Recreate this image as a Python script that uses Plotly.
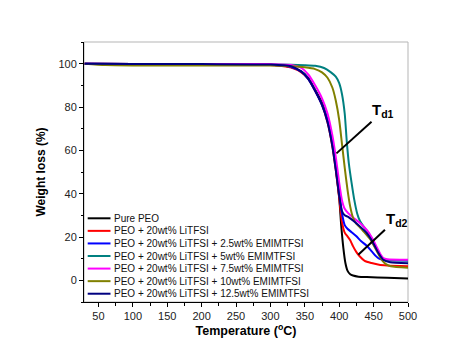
import plotly.graph_objects as go

# ---------------- data ----------------
series_names = [
    "Pure PEO",
    "PEO + 20wt% LiTFSI",
    "PEO + 20wt% LiTFSI + 2.5wt% EMIMTFSI",
    "PEO + 20wt% LiTFSI + 5wt% EMIMTFSI",
    "PEO + 20wt% LiTFSI + 7.5wt% EMIMTFSI",
    "PEO + 20wt% LiTFSI + 10wt% EMIMTFSI",
    "PEO + 20wt% LiTFSI + 12.5wt% EMIMTFSI",
]
series_colors = ["#000000", "#ff0000", "#0000ff", "#008080", "#ff00ff", "#808000", "#000080"]

pure_peo_T = [30, 100, 200, 280, 310, 330, 345, 355, 365, 375, 383, 390, 395, 400, 403, 406, 409, 412, 416, 420, 428, 440, 470, 500]
pure_peo_W = [100, 99.9, 99.8, 99.6, 99.3, 98.5, 96.5, 93.5, 88, 82, 74, 63, 52, 38, 25, 15, 8, 4.5, 2.8, 2.2, 1.7, 1.5, 1.2, 0.9]

litfsi_T = [30, 100, 200, 280, 310, 330, 345, 355, 365, 375, 383, 390, 395, 400, 404, 408, 412, 416, 420, 425, 430, 437, 447, 458, 470, 500]
litfsi_W = [100, 99.9, 99.8, 99.6, 99.2, 98.2, 96, 93, 87.5, 81, 73, 62, 51, 38, 27, 22, 20.3, 18.5, 15.8, 13, 11, 9, 8, 7.2, 6.9, 6.5]

emim25_T = [30, 100, 200, 280, 310, 330, 345, 355, 365, 375, 383, 390, 395, 400, 404, 408, 412, 418, 425, 432, 440, 447, 453, 458, 465, 480, 500]
emim25_W = [100, 99.9, 99.8, 99.6, 99.3, 98.5, 96.3, 93, 87.5, 81, 74, 64, 54, 41, 31, 25.5, 23.8, 22.2, 20.3, 18, 16, 13.5, 11.3, 10, 9.5, 9.3, 9.1]

emim5_T = [30, 100, 200, 300, 330, 350, 365, 378, 388, 395, 400, 404, 408, 411, 414, 418, 422, 426, 430, 435, 442, 449, 455, 460, 465, 470, 500]
emim5_W = [100, 99.9, 99.8, 99.7, 99.5, 99.3, 99, 98, 96, 94, 91, 86, 77, 64, 54, 45, 37, 31, 27.5, 25, 22, 18.5, 14.5, 11.5, 9.8, 9.3, 9.1]

emim75_T = [30, 100, 200, 300, 330, 345, 355, 365, 375, 383, 390, 395, 400, 404, 408, 413, 420, 428, 435, 442, 449, 455, 460, 464, 470, 500]
emim75_W = [100, 99.9, 99.8, 99.8, 99.4, 98, 95, 90, 84, 77, 67, 57, 45, 37, 33, 31, 29, 27, 25, 22.5, 18.8, 15, 12, 10.3, 9.7, 9.5]

emim10_T = [30, 60, 100, 200, 300, 330, 350, 365, 375, 383, 390, 395, 400, 404, 408, 412, 416, 420, 425, 430, 437, 445, 452, 458, 463, 468, 475, 500]
emim10_W = [100, 99.4, 99.2, 99.1, 99.1, 98.8, 98.3, 97.5, 96, 93.5, 89, 83, 74, 63, 52, 42, 34, 29, 26, 24.5, 22, 19, 15, 11.5, 9, 7.5, 6.5, 5.8]

emim125_T = [30, 100, 200, 300, 330, 345, 355, 365, 375, 383, 390, 395, 400, 404, 408, 413, 420, 430, 440, 449, 457, 464, 474, 500]
emim125_W = [100, 99.9, 99.8, 99.6, 98.8, 96.3, 93, 87.5, 81, 73, 62, 51, 39, 32, 30, 29.3, 27.6, 24.9, 21.8, 17.5, 12.6, 9.5, 8.3, 7.9]

series_T = [pure_peo_T, litfsi_T, emim25_T, emim5_T, emim75_T, emim10_T, emim125_T]
series_W = [pure_peo_W, litfsi_W, emim25_W, emim5_W, emim75_W, emim10_W, emim125_W]

x_ticks = [50, 100, 150, 200, 250, 300, 350, 400, 450, 500]
y_ticks = [0, 20, 40, 60, 80, 100]

# annotation anchors (data coords)
td1_text_pos = (445, 78.5)
td1_line = (396, 58.6, 447, 73.2)
td2_text_pos = (465, 28)
td2_line = (427.7, 11.8, 466.5, 23.3)

# ---------------- figure ----------------
# page body has an 8px margin (top/left), so the figure is drawn 8px smaller
W_PX, H_PX = 466, 355
ML, MR, MT, MB = 76, 66, 34, 61
OFF = 8  # body margin
plot_h = H_PX - MT - MB
plot_w = W_PX - ML - MR

fig = go.Figure()
for name, color, T, Wt in zip(series_names, series_colors, series_T, series_W):
    fig.add_trace(go.Scatter(
        x=T, y=Wt, mode="lines", name=name,
        line=dict(color=color, width=2, shape="spline", smoothing=0.6),
        showlegend=False,
    ))

# custom compact legend (screen pixel positions of the reference)
leg_top_px = 218.3 - (MT + OFF)
leg_step_px = 12.57
for i, (name, color) in enumerate(zip(series_names, series_colors)):
    ypx = leg_top_px + i * leg_step_px
    yp = 1 - ypx / plot_h
    fig.add_shape(type="line", xref="paper", yref="paper",
                  x0=(87.7 - ML - OFF) / plot_w, x1=(110.5 - ML - OFF) / plot_w, y0=yp, y1=yp,
                  line=dict(color=color, width=2))
    fig.add_annotation(xref="paper", yref="paper", x=(112 - ML - OFF) / plot_w, y=yp,
                       text=name, showarrow=False, xanchor="left", yanchor="middle",
                       font=dict(family="Liberation Sans, Arial", size=10, color="#111"))

# frame (top/right in grey)
fig.add_shape(type="rect", xref="paper", yref="paper", x0=0, x1=1, y0=0, y1=1,
              line=dict(color="#b5b5b5", width=1), layer="below")

# Td annotations
fig.add_shape(type="line", x0=td1_line[0], y0=td1_line[1], x1=td1_line[2], y1=td1_line[3],
              line=dict(color="black", width=2))
fig.add_shape(type="line", x0=td2_line[0], y0=td2_line[1], x1=td2_line[2], y1=td2_line[3],
              line=dict(color="black", width=2))
fig.add_annotation(x=td1_text_pos[0], y=td1_text_pos[1], text="<b>T<sub>d1</sub></b>",
                   showarrow=False, xanchor="left", yanchor="middle",
                   font=dict(family="Liberation Sans, Arial", size=15, color="black"))
fig.add_annotation(x=td2_text_pos[0], y=td2_text_pos[1], text="<b>T<sub>d2</sub></b>",
                   showarrow=False, xanchor="left", yanchor="middle",
                   font=dict(family="Liberation Sans, Arial", size=15, color="black"))

axis_font = dict(family="Liberation Sans, Arial", size=11, color="#222")
fig.update_xaxes(range=[29, 500], tickvals=x_ticks, ticks="outside", ticklen=4, tickwidth=1,
                 tickcolor="black", showline=True, linecolor="black", linewidth=1,
                 showgrid=False, zeroline=False, tickfont=axis_font,
                 minor=dict(dtick=25, tick0=0, ticks="outside", ticklen=2.5, tickcolor="black"),
                 title=dict(text="<b>Temperature (<sup>o</sup>C)</b>", standoff=2,
                            font=dict(family="Liberation Sans, Arial", size=12.5, color="black")))
fig.update_yaxes(range=[-10, 110], tickvals=y_ticks, ticks="outside", ticklen=4, tickwidth=1,
                 tickcolor="black", showline=True, linecolor="black", linewidth=1,
                 showgrid=False, zeroline=False, tickfont=axis_font,
                 minor=dict(dtick=10, tick0=0, ticks="outside", ticklen=2.5, tickcolor="black"),
                 title=dict(text="<b>Weight loss (%)</b>", standoff=10,
                            font=dict(family="Liberation Sans, Arial", size=12, color="black")))

fig.update_layout(width=W_PX, height=H_PX, margin=dict(l=ML, r=MR, t=MT, b=MB),
                  paper_bgcolor="white", plot_bgcolor="white")

fig.write_html("out.html")
